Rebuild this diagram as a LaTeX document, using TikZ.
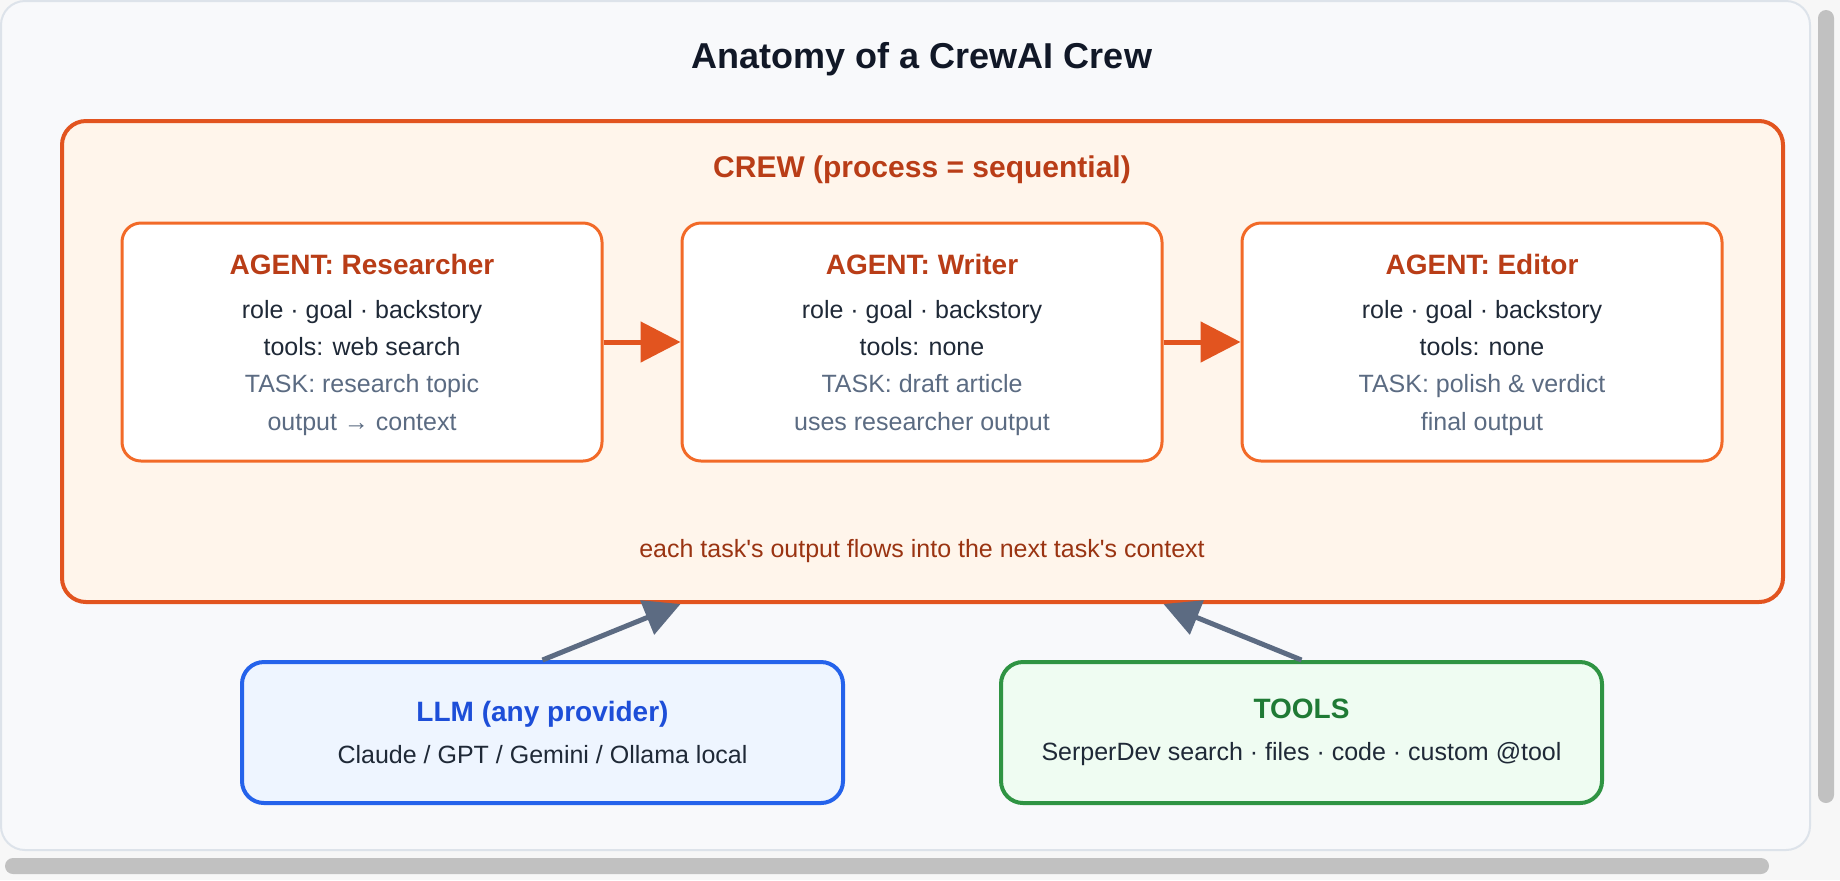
\documentclass[tikz,border=0pt]{standalone}
\usepackage{fontspec}
\setmainfont{Liberation Sans}
\usetikzlibrary{positioning,arrows.meta,calc}

\definecolor{pagebg}{HTML}{F7F7F7}
\definecolor{panelbg}{HTML}{F8F9FB}
\definecolor{panelline}{HTML}{DDE3EA}
\definecolor{scroll}{HTML}{C1C1C1}
\definecolor{ink}{HTML}{1F2937}
\definecolor{heading}{HTML}{111827}
\definecolor{crewline}{HTML}{E2541F}
\definecolor{crewfill}{HTML}{FFF5EB}
\definecolor{crewhead}{HTML}{B93D17}
\definecolor{crewnote}{HTML}{9A3412}
\definecolor{agentline}{HTML}{F26A28}
\definecolor{taskgray}{HTML}{5B6B82}
\definecolor{llmline}{HTML}{2563EB}
\definecolor{llmfill}{HTML}{EEF5FF}
\definecolor{llmhead}{HTML}{1D4ED8}
\definecolor{toolline}{HTML}{2F9443}
\definecolor{toolfill}{HTML}{EFFCF2}
\definecolor{toolhead}{HTML}{1F7A35}
\definecolor{feed}{HTML}{5C6B82}

\newcommand{\agenthead}[1]{\rule{0pt}{13pt}{\fontsize{14}{17}\selectfont\bfseries\color{crewhead}#1}}

\begin{document}
\begin{tikzpicture}[x=0.5pt, y=-0.5pt,
      panel/.style={draw=panelline, line width=1pt, fill=panelbg, rounded corners=12pt},
      bar/.style={fill=scroll, rounded corners=4pt},
      crewbox/.style={draw=crewline, line width=2pt, fill=crewfill, rounded corners=12pt,
        minimum width=860.5pt, minimum height=240.5pt},
      agent/.style={draw=agentline, line width=1.5pt, fill=white, rounded corners=9.5pt,
        minimum width=240pt, minimum height=119pt, align=center, text=ink,
        font=\fontsize{12.5}{18.5}\selectfont},
      side/.style={line width=2pt, rounded corners=11pt, minimum width=300.5pt,
        minimum height=70.5pt, align=center, text=ink, font=\fontsize{12.5}{21}\selectfont},
      flow/.style={draw=crewline, line width=2.5pt, -{Triangle[length=20pt, width=20pt]}},
      feedin/.style={draw=feed, line width=2.5pt, -{Triangle[length=18pt, width=18pt]}}]
      % page, panel and scroll bars
      \fill[pagebg] (0,0) rectangle (1840,880);
      \useasboundingbox (0,0) rectangle (1840,880);
      \draw[panel] (1,1) rectangle (1810,850);
      \fill[bar] (1818,10) rectangle (1834,803);
      \fill[bar] (5,858) rectangle (1769,874);
      \node[font=\fontsize{18}{22}\selectfont\bfseries, text=heading] (title) at (922,59) {Anatomy of a CrewAI Crew};
      % crew
      \node[crewbox] (crew) at (922.5,361.5) {};
      \node[font=\fontsize{15}{18}\selectfont\bfseries, text=crewhead] (crewlbl) at (922,170) {CREW (process = sequential)};
      \node[agent] (res) at (362,342) {\agenthead{AGENT: Researcher}\\[3.5pt]
        role · goal · backstory\\ tools: web search\\ {\color{taskgray}TASK: research topic}\\[0.8pt] {\color{taskgray}output → context}};
      \node[agent] (wri) at (922,342) {\agenthead{AGENT: Writer}\\[3.5pt]
        role · goal · backstory\\ tools: none\\ {\color{taskgray}TASK: draft article}\\[0.8pt] {\color{taskgray}uses researcher output}};
      \node[agent] (edi) at (1482,342) {\agenthead{AGENT: Editor}\\[3.5pt]
        role · goal · backstory\\ tools: none\\ {\color{taskgray}TASK: polish \& verdict}\\[0.8pt] {\color{taskgray}final output}};
      \node[font=\fontsize{12.5}{16}\selectfont, text=crewnote] (note) at (922,551) {each task\textquotesingle s output flows into the next task\textquotesingle s context};
      \draw[flow] (res) -- (wri);
      \draw[flow] (wri) -- (edi);
      % inputs
      \node[side, draw=llmline, fill=llmfill] (llm) at (542.5,732.5) {{\fontsize{14}{17}\selectfont\bfseries\color{llmhead}LLM (any provider)}\\
        Claude / GPT / Gemini / Ollama local};
      \node[side, draw=toolline, fill=toolfill] (tools) at (1301.5,732.5) {{\fontsize{14}{17}\selectfont\bfseries\color{toolhead}TOOLS}\\
        SerperDev search · files · code · custom @tool};
      \draw[feedin] (llm.north) -- (crew.south -| wri.west);
      \draw[feedin] (tools.north) -- (crew.south -| wri.east);
    \end{tikzpicture}
\end{document}
